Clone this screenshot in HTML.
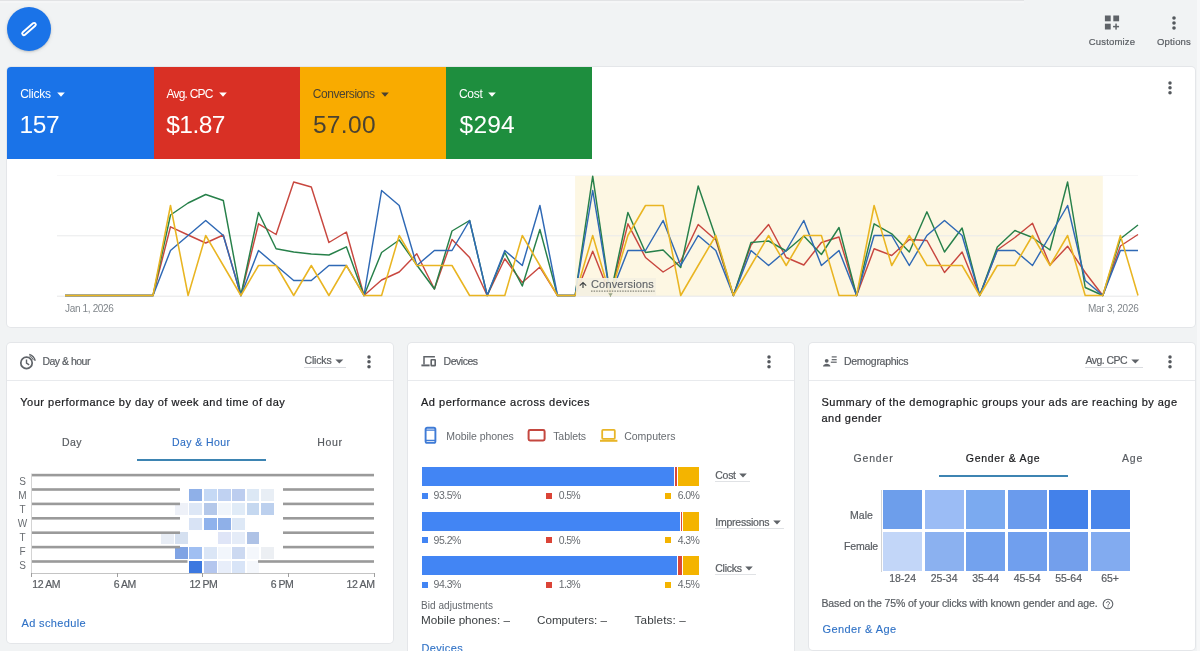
<!DOCTYPE html>
<html><head><meta charset="utf-8"><title>Overview</title>
<style>
html,body{margin:0;padding:0}
body{width:1200px;height:651px;overflow:hidden;position:relative;background:#f1f3f4;font-family:"Liberation Sans",sans-serif}
.t{position:absolute;white-space:nowrap}
.r{position:absolute}
.card{position:absolute;background:#fff;border-radius:4px;box-shadow:0 0 0 1px #e4e6e9;}
svg{display:block;overflow:visible}
</style></head><body>
<div class="r" style="left:0.00px;top:0.00px;width:1024.00px;height:1.00px;background:#e2e3e5;"></div>
<div class="r" style="left:0.00px;top:1.00px;width:1024.00px;height:2.00px;background:#f5f6f7;"></div>
<div class="r" style="left:1196.50px;top:0.00px;width:3.50px;height:651.00px;background:#f7f8f9;"></div>
<div class="r" style="left:6.9px;top:6.5px;width:44.3px;height:44.3px;border-radius:50%;background:#1a73e8;box-shadow:0 1px 2px rgba(60,64,67,.2),0 1px 4px rgba(60,64,67,.1)"></div>
<svg class="r" style="left:19.05px;top:18.9px" width="20" height="20" viewBox="0 0 20 20"><g transform="rotate(49 10 10)"><rect x="8.3" y="1.6" width="3.4" height="16.8" rx="1.6" fill="none" stroke="#fff" stroke-width="1.9"/></g></svg>
<svg class="r" style="left:1104px;top:15px" width="16" height="16" viewBox="0 0 16 16" fill="#5f6368"><rect x="0.9" y="0.5" width="5.8" height="5.8"/><rect x="9.3" y="0.5" width="5.8" height="5.8"/><rect x="0.9" y="8.7" width="5.8" height="5.8"/><rect x="11.3" y="8.6" width="1.5" height="6"/><rect x="9.05" y="10.85" width="6" height="1.5"/></svg>
<div class="t" style="font-size:9.5px;line-height:9.5px;color:#595d62;letter-spacing:0.181px;left:1088.75px;top:36.76px;-webkit-text-stroke:0.2px;">Customize</div>
<svg class="r" style="left:1170px;top:13.600000000000001px" width="8" height="18" fill="#54585d"><circle cx="4" cy="4" r="1.8"/><circle cx="4" cy="9" r="1.8"/><circle cx="4" cy="14" r="1.8"/></svg>
<div class="t" style="font-size:9.5px;line-height:9.5px;color:#595d62;letter-spacing:0.180px;left:1157.00px;top:36.76px;-webkit-text-stroke:0.2px;">Options</div>
<div class="card" style="left:7px;top:67px;width:1188px;height:260px"></div>
<div class="r" style="left:7.40px;top:67.00px;width:146.50px;height:92.20px;background:#1a73e8;border-top-left-radius:4px;"></div>
<div class="t" style="font-size:12px;line-height:12px;color:#fff;letter-spacing:-0.250px;left:20.20px;top:87.64px;">Clicks</div>
<svg class="r" style="left:56.70px;top:91.7px" width="9" height="6"><path d="M0.2 0.4h7.6L4 4.7z" fill="#fff"/></svg>
<div class="t" style="font-size:24.5px;line-height:24.5px;color:#fff;letter-spacing:-0.450px;left:19.60px;top:112.66px;">157</div>
<div class="r" style="left:153.65px;top:67.00px;width:146.50px;height:92.20px;background:#d93025;"></div>
<div class="t" style="font-size:12px;line-height:12px;color:#fff;letter-spacing:-0.771px;left:166.45px;top:87.64px;">Avg. CPC</div>
<svg class="r" style="left:218.75px;top:91.7px" width="9" height="6"><path d="M0.2 0.4h7.6L4 4.7z" fill="#fff"/></svg>
<div class="t" style="font-size:24.5px;line-height:24.5px;color:#fff;letter-spacing:-0.550px;left:166.30px;top:112.66px;">$1.87</div>
<div class="r" style="left:299.90px;top:67.00px;width:146.50px;height:92.20px;background:#f9ab00;"></div>
<div class="t" style="font-size:12px;line-height:12px;color:#4a4231;letter-spacing:-0.427px;left:312.70px;top:87.64px;">Conversions</div>
<svg class="r" style="left:380.70px;top:91.7px" width="9" height="6"><path d="M0.2 0.4h7.6L4 4.7z" fill="#4a4231"/></svg>
<div class="t" style="font-size:24.5px;line-height:24.5px;color:#4a4231;letter-spacing:0.350px;left:312.90px;top:112.66px;">57.00</div>
<div class="r" style="left:446.15px;top:67.00px;width:146.20px;height:92.20px;background:#1e8e3e;"></div>
<div class="t" style="font-size:12px;line-height:12px;color:#fff;letter-spacing:-0.293px;left:458.95px;top:87.64px;">Cost</div>
<svg class="r" style="left:488.45px;top:91.7px" width="9" height="6"><path d="M0.2 0.4h7.6L4 4.7z" fill="#fff"/></svg>
<div class="t" style="font-size:24.5px;line-height:24.5px;color:#fff;letter-spacing:0.200px;left:459.60px;top:112.66px;">$294</div>
<svg class="r" style="left:1166px;top:78.95px" width="8" height="17.7" fill="#54585d"><circle cx="4" cy="4" r="1.75"/><circle cx="4" cy="8.85" r="1.75"/><circle cx="4" cy="13.7" r="1.75"/></svg>
<svg class="r" style="left:0;top:160px" width="1200" height="165" viewBox="0 160 1200 165"><rect x="575.1" y="175" width="527.7" height="121" fill="#fdf7e3"/><line x1="57" x2="1138" y1="175.5" y2="175.5" stroke="#f8f8f9" stroke-width="1"/><line x1="57" x2="1138" y1="235.8" y2="235.8" stroke="#e9eaeb" stroke-width="1"/><line x1="57" x2="1138" y1="296.2" y2="296.2" stroke="#e6e7e8" stroke-width="1"/><polyline points="65.0,295.5 82.6,295.5 100.2,295.5 117.8,295.5 135.4,295.5 153.0,295.5 170.5,226.8 188.1,235.0 205.7,243.0 223.3,235.0 240.9,295.5 258.5,223.8 276.1,234.5 293.7,182.0 311.3,187.0 328.9,242.5 346.4,232.0 364.0,295.5 381.6,280.0 399.2,272.0 416.8,253.8 434.4,289.0 452.0,239.5 469.6,257.5 487.2,295.5 504.8,258.8 522.3,282.5 539.9,267.0 557.5,295.5 575.1,295.5 592.7,251.2 610.3,295.5 627.9,223.8 645.5,257.5 663.1,272.0 680.7,261.0 698.2,224.5 715.8,240.0 733.4,295.5 751.0,245.0 768.6,224.5 786.2,257.5 803.8,265.0 821.4,242.5 839.0,237.0 856.6,295.5 874.1,248.8 891.7,255.5 909.3,239.5 926.9,240.5 944.5,272.5 962.1,252.0 979.7,295.5 997.3,250.0 1014.9,237.5 1032.5,223.2 1050.0,265.0 1067.6,246.2 1085.2,272.5 1102.8,295.5 1120.4,246.0 1138.0,234.5" fill="none" stroke="#c8473f" stroke-width="1.45" stroke-linejoin="round"/><polyline points="65.0,295.5 82.6,295.5 100.2,295.5 117.8,295.5 135.4,295.5 153.0,295.5 170.5,215.0 188.1,203.0 205.7,194.5 223.3,200.5 240.9,295.5 258.5,212.5 276.1,248.8 293.7,252.0 311.3,254.0 328.9,255.0 346.4,246.8 364.0,295.5 381.6,252.5 399.2,240.0 416.8,265.0 434.4,289.0 452.0,231.0 469.6,220.5 487.2,295.5 504.8,252.5 522.3,286.0 539.9,229.5 557.5,295.5 575.1,295.5 592.7,176.2 610.3,295.5 627.9,212.5 645.5,252.5 663.1,250.0 680.7,267.5 698.2,186.0 715.8,237.5 733.4,295.5 751.0,242.5 768.6,241.0 786.2,251.0 803.8,236.0 821.4,254.5 839.0,227.5 856.6,295.5 874.1,223.8 891.7,233.8 909.3,252.0 926.9,211.8 944.5,252.0 962.1,228.0 979.7,295.5 997.3,247.0 1014.9,230.5 1032.5,237.5 1050.0,250.0 1067.6,182.0 1085.2,287.5 1102.8,295.5 1120.4,238.8 1138.0,225.0" fill="none" stroke="#27804a" stroke-width="1.45" stroke-linejoin="round"/><polyline points="65.0,295.5 82.6,295.5 100.2,295.5 117.8,295.5 135.4,295.5 153.0,295.5 170.5,250.5 188.1,235.5 205.7,220.5 223.3,235.5 240.9,295.5 258.5,250.5 276.1,265.5 293.7,280.5 311.3,280.5 328.9,265.5 346.4,265.5 364.0,295.5 381.6,190.5 399.2,205.5 416.8,265.5 434.4,250.5 452.0,250.5 469.6,220.5 487.2,295.5 504.8,250.5 522.3,265.5 539.9,205.5 557.5,295.5 575.1,295.5 592.7,190.5 610.3,295.5 627.9,250.5 645.5,250.5 663.1,220.5 680.7,265.5 698.2,235.5 715.8,250.5 733.4,295.5 751.0,250.5 768.6,265.5 786.2,250.5 803.8,220.5 821.4,265.5 839.0,250.5 856.6,295.5 874.1,235.5 891.7,235.5 909.3,265.5 926.9,235.5 944.5,220.5 962.1,235.5 979.7,295.5 997.3,250.5 1014.9,250.5 1032.5,265.5 1050.0,235.5 1067.6,205.5 1085.2,280.5 1102.8,295.5 1120.4,250.5 1138.0,250.5" fill="none" stroke="#2f69b5" stroke-width="1.45" stroke-linejoin="round"/><polyline points="65.0,295.5 82.6,295.5 100.2,295.5 117.8,295.5 135.4,295.5 153.0,295.5 170.5,205.5 188.1,295.5 205.7,235.5 223.3,265.5 240.9,295.5 258.5,265.5 276.1,265.5 293.7,295.5 311.3,265.5 328.9,295.5 346.4,265.5 364.0,295.5 381.6,295.5 399.2,235.5 416.8,265.5 434.4,265.5 452.0,265.5 469.6,295.5 487.2,295.5 504.8,295.5 522.3,235.5 539.9,265.5 557.5,295.5 575.1,295.5 592.7,235.5 610.3,295.5 627.9,235.5 645.5,205.5 663.1,205.5 680.7,295.5 698.2,265.5 715.8,235.5 733.4,295.5 751.0,265.5 768.6,235.5 786.2,265.5 803.8,235.5 821.4,235.5 839.0,295.5 856.6,295.5 874.1,205.5 891.7,265.5 909.3,235.5 926.9,265.5 944.5,265.5 962.1,265.5 979.7,295.5 997.3,265.5 1014.9,265.5 1032.5,235.5 1050.0,265.5 1067.6,235.5 1085.2,295.5 1102.8,295.5 1120.4,235.5 1138.0,295.5" fill="none" stroke="#e9b522" stroke-width="1.55" stroke-linejoin="round"/></svg>
<div class="t" style="font-size:10px;line-height:10px;color:#80868b;letter-spacing:-0.342px;left:65.00px;top:303.64px;">Jan 1, 2026</div>
<div class="t" style="font-size:10px;line-height:10px;color:#80868b;letter-spacing:-0.260px;left:1088.00px;top:303.64px;">Mar 3, 2026</div>
<div class="r" style="left:576.00px;top:278.00px;width:80.00px;height:18.00px;background:#f4f0e2;opacity:.92"></div>
<div class="t" style="font-size:11px;line-height:11px;color:#5f6368;letter-spacing:0.169px;left:591.00px;top:278.59px;-webkit-text-stroke:0.12px;">Conversions</div>
<svg class="r" style="left:591px;top:290px" width="64" height="3"><line x1="0" x2="63.5" y1="1.1" y2="1.1" stroke="#85857a" stroke-width="1.3" stroke-dasharray="1.5 1.1"/></svg>
<svg class="r" style="left:578px;top:280px" width="10" height="10"><path d="M5 2.6V8.1M1.8 5.6L5 2.5L8.2 5.6" fill="none" stroke="#3c4043" stroke-width="1.15"/></svg>
<svg class="r" style="left:607.5px;top:293.2px" width="6" height="4"><path d="M0.3 0.2h4.4L2.5 3.6z" fill="#9aa68a"/></svg>
<div class="card" style="left:7px;top:342.5px;width:386px;height:300px"></div>
<div class="card" style="left:408px;top:342.5px;width:386px;height:330px"></div>
<div class="card" style="left:808.5px;top:342.5px;width:386.5px;height:307px"></div>
<div class="r" style="left:7.00px;top:380.00px;width:386.00px;height:1.00px;background:#e8eaed;"></div>
<div class="r" style="left:408.00px;top:380.00px;width:386.00px;height:1.00px;background:#e8eaed;"></div>
<div class="r" style="left:808.50px;top:380.00px;width:386.50px;height:1.00px;background:#e8eaed;"></div>
<svg class="r" style="left:19px;top:352.5px" width="18" height="18" viewBox="0 0 18 18" fill="none" stroke="#5f6368" stroke-width="1.7"><circle cx="7.5" cy="9.9" r="5.7"/><path d="M7.5 6.6V10.1L10.2 11.9" stroke-width="1.4"/><path d="M10.31 2.95A7.5 7.5 0 0 1 14.45 7.09" stroke-width="1"/><path d="M10.28 1.34A9.0 9.0 0 0 1 16.23 7.72" stroke-width="1.4"/></svg>
<div class="t" style="font-size:10.5px;line-height:10.5px;color:#595d62;letter-spacing:-0.503px;left:42.40px;top:355.91px;-webkit-text-stroke:0.2px;">Day &amp; hour</div>
<div class="t" style="font-size:10.5px;line-height:10.5px;color:#595d62;letter-spacing:-0.166px;left:304.50px;top:354.81px;-webkit-text-stroke:0.2px;">Clicks</div>
<svg class="r" style="left:335px;top:358.8px" width="9" height="6"><path d="M0.3 0.5h8L4.3 4.6z" fill="#5f6368"/></svg>
<div class="r" style="left:304.30px;top:366.80px;width:41.50px;height:1.00px;background:#dadce0;"></div>
<svg class="r" style="left:364.5px;top:352.65px" width="8" height="17.7" fill="#54585d"><circle cx="4" cy="4" r="1.75"/><circle cx="4" cy="8.85" r="1.75"/><circle cx="4" cy="13.7" r="1.75"/></svg>
<div class="t" style="font-size:11px;line-height:11px;color:#202124;letter-spacing:0.495px;left:20.30px;top:396.59px;-webkit-text-stroke:0.22px;">Your performance by day of week and time of day</div>
<div class="t" style="font-size:10.5px;line-height:10.5px;color:#595d62;letter-spacing:0.443px;left:62.00px;top:436.81px;-webkit-text-stroke:0.2px;">Day</div>
<div class="t" style="font-size:10.5px;line-height:10.5px;color:#2f6fc4;letter-spacing:0.423px;left:171.95px;top:436.81px;-webkit-text-stroke:0.12px;">Day &amp; Hour</div>
<div class="t" style="font-size:10.5px;line-height:10.5px;color:#595d62;letter-spacing:0.685px;left:317.25px;top:436.81px;-webkit-text-stroke:0.2px;">Hour</div>
<div class="r" style="left:137.00px;top:458.70px;width:129.00px;height:2.20px;background:#3d84b2;"></div>
<div class="t" style="font-size:10px;line-height:10px;color:#686c71;left:19.16px;top:477.24px;">S</div>
<div class="t" style="font-size:10px;line-height:10px;color:#686c71;left:18.33px;top:491.18px;">M</div>
<div class="t" style="font-size:10px;line-height:10px;color:#686c71;left:19.45px;top:505.12px;">T</div>
<div class="t" style="font-size:10px;line-height:10px;color:#686c71;left:17.78px;top:519.05px;">W</div>
<div class="t" style="font-size:10px;line-height:10px;color:#686c71;left:19.45px;top:533.00px;">T</div>
<div class="t" style="font-size:10px;line-height:10px;color:#686c71;left:19.45px;top:546.93px;">F</div>
<div class="t" style="font-size:10px;line-height:10px;color:#686c71;left:19.16px;top:560.88px;">S</div>
<div class="r" style="left:189.48px;top:488.90px;width:12.87px;height:12.20px;background:#8fb0e8;"></div>
<div class="r" style="left:203.75px;top:488.90px;width:12.87px;height:12.20px;background:#c5d9f5;"></div>
<div class="r" style="left:218.02px;top:488.90px;width:12.87px;height:12.20px;background:#c0d2f2;"></div>
<div class="r" style="left:232.29px;top:488.90px;width:12.87px;height:12.20px;background:#bccdef;"></div>
<div class="r" style="left:246.56px;top:488.90px;width:12.87px;height:12.20px;background:#dce8f5;"></div>
<div class="r" style="left:260.83px;top:488.90px;width:12.87px;height:12.20px;background:#e8eef5;"></div>
<div class="r" style="left:175.21px;top:503.30px;width:12.87px;height:12.20px;background:#eef1f8;"></div>
<div class="r" style="left:189.48px;top:503.30px;width:12.87px;height:12.20px;background:#dde7f6;"></div>
<div class="r" style="left:203.75px;top:503.30px;width:12.87px;height:12.20px;background:#b4c8ea;"></div>
<div class="r" style="left:218.02px;top:503.30px;width:12.87px;height:12.20px;background:#f0f5fb;"></div>
<div class="r" style="left:232.29px;top:503.30px;width:12.87px;height:12.20px;background:#e0ebf7;"></div>
<div class="r" style="left:246.56px;top:503.30px;width:12.87px;height:12.20px;background:#c5d8f0;"></div>
<div class="r" style="left:260.83px;top:503.30px;width:12.87px;height:12.20px;background:#bcd0ee;"></div>
<div class="r" style="left:189.48px;top:517.70px;width:12.87px;height:12.20px;background:#d8e3f5;"></div>
<div class="r" style="left:203.75px;top:517.70px;width:12.87px;height:12.20px;background:#8fb2ec;"></div>
<div class="r" style="left:218.02px;top:517.70px;width:12.87px;height:12.20px;background:#8fb0e8;"></div>
<div class="r" style="left:232.29px;top:517.70px;width:12.87px;height:12.20px;background:#dde8f6;"></div>
<div class="r" style="left:160.94px;top:532.10px;width:12.87px;height:12.20px;background:#e8edf5;"></div>
<div class="r" style="left:175.21px;top:532.10px;width:12.87px;height:12.20px;background:#d5e0f0;"></div>
<div class="r" style="left:218.02px;top:532.10px;width:12.87px;height:12.20px;background:#dfe5f7;"></div>
<div class="r" style="left:232.29px;top:532.10px;width:12.87px;height:12.20px;background:#e5ecf8;"></div>
<div class="r" style="left:246.56px;top:532.10px;width:12.87px;height:12.20px;background:#aec2e6;"></div>
<div class="r" style="left:175.21px;top:546.50px;width:12.87px;height:12.20px;background:#7fa3e4;"></div>
<div class="r" style="left:189.48px;top:546.50px;width:12.87px;height:12.20px;background:#a0bff2;"></div>
<div class="r" style="left:203.75px;top:546.50px;width:12.87px;height:12.20px;background:#dbe6f6;"></div>
<div class="r" style="left:218.02px;top:546.50px;width:12.87px;height:12.20px;background:#f2f6fc;"></div>
<div class="r" style="left:232.29px;top:546.50px;width:12.87px;height:12.20px;background:#ccd9f1;"></div>
<div class="r" style="left:246.56px;top:546.50px;width:12.87px;height:12.20px;background:#f4f7fc;"></div>
<div class="r" style="left:260.83px;top:546.50px;width:12.87px;height:12.20px;background:#eceff3;"></div>
<div class="r" style="left:189.48px;top:560.90px;width:12.87px;height:12.20px;background:#3c78e0;"></div>
<div class="r" style="left:203.75px;top:560.90px;width:12.87px;height:12.20px;background:#b4c6ee;"></div>
<div class="r" style="left:218.02px;top:560.90px;width:12.87px;height:12.20px;background:#e8eefa;"></div>
<div class="r" style="left:232.29px;top:560.90px;width:12.87px;height:12.20px;background:#d8e4f7;"></div>
<div class="r" style="left:246.56px;top:560.90px;width:12.87px;height:12.20px;background:#f4f7fc;"></div>
<svg class="r" style="left:0;top:470px" width="400" height="100" viewBox="0 470 400 100"><rect x="31" y="473.80" width="343" height="2.6" fill="#9a9a9a"/><rect x="31" y="488.20" width="149" height="2.6" fill="#9a9a9a"/><rect x="283" y="488.20" width="91" height="2.6" fill="#9a9a9a"/><rect x="31" y="502.60" width="149" height="2.6" fill="#9a9a9a"/><rect x="283" y="502.60" width="91" height="2.6" fill="#9a9a9a"/><rect x="31" y="517.00" width="149" height="2.6" fill="#9a9a9a"/><rect x="283" y="517.00" width="91" height="2.6" fill="#9a9a9a"/><rect x="31" y="531.40" width="149" height="2.6" fill="#9a9a9a"/><rect x="283" y="531.40" width="91" height="2.6" fill="#9a9a9a"/><rect x="31" y="545.80" width="149" height="2.6" fill="#9a9a9a"/><rect x="283" y="545.80" width="91" height="2.6" fill="#9a9a9a"/><rect x="31" y="560.20" width="156.5" height="2.6" fill="#9a9a9a"/><rect x="258" y="560.20" width="116" height="2.6" fill="#9a9a9a"/></svg>
<div class="r" style="left:31.00px;top:474.00px;width:1.00px;height:100.00px;background:#d4d4d4;"></div>
<div class="r" style="left:31.00px;top:573.30px;width:343.50px;height:1.00px;background:#c4c4c4;"></div>
<div class="r" style="left:31.00px;top:573.30px;width:1.00px;height:3.70px;background:#9e9e9e;"></div>
<div class="t" style="font-size:10.5px;line-height:10.5px;color:#595d62;letter-spacing:-0.353px;left:32.20px;top:578.91px;-webkit-text-stroke:0.2px;">12 AM</div>
<div class="r" style="left:116.62px;top:573.30px;width:1.00px;height:3.70px;background:#9e9e9e;"></div>
<div class="t" style="font-size:10.5px;line-height:10.5px;color:#595d62;letter-spacing:-0.407px;left:113.65px;top:578.91px;-webkit-text-stroke:0.2px;">6 AM</div>
<div class="r" style="left:202.25px;top:573.30px;width:1.00px;height:3.70px;background:#9e9e9e;"></div>
<div class="t" style="font-size:10.5px;line-height:10.5px;color:#595d62;letter-spacing:-0.469px;left:189.40px;top:578.91px;-webkit-text-stroke:0.2px;">12 PM</div>
<div class="r" style="left:287.88px;top:573.30px;width:1.00px;height:3.70px;background:#9e9e9e;"></div>
<div class="t" style="font-size:10.5px;line-height:10.5px;color:#595d62;letter-spacing:-0.552px;left:270.85px;top:578.91px;-webkit-text-stroke:0.2px;">6 PM</div>
<div class="r" style="left:373.50px;top:573.30px;width:1.00px;height:3.70px;background:#9e9e9e;"></div>
<div class="t" style="font-size:10.5px;line-height:10.5px;color:#595d62;letter-spacing:-0.353px;left:346.60px;top:578.91px;-webkit-text-stroke:0.2px;">12 AM</div>
<div class="t" style="font-size:11px;line-height:11px;color:#3072c6;letter-spacing:0.360px;left:21.50px;top:617.89px;-webkit-text-stroke:0.12px;">Ad schedule</div>
<svg class="r" style="left:420px;top:353px" width="18" height="16" viewBox="0 0 18 16" fill="none" stroke="#5f6368" stroke-width="1.5"><path d="M4 11.6V3.7H14.9"/><path d="M1.4 12.4H9.6" stroke-width="1.9"/><rect x="11.2" y="6.7" width="4" height="5.9" rx="0.4" stroke-width="1.6"/></svg>
<div class="t" style="font-size:10.5px;line-height:10.5px;color:#595d62;letter-spacing:-0.478px;left:443.60px;top:355.91px;-webkit-text-stroke:0.2px;">Devices</div>
<svg class="r" style="left:765px;top:352.65px" width="8" height="17.7" fill="#54585d"><circle cx="4" cy="4" r="1.75"/><circle cx="4" cy="8.85" r="1.75"/><circle cx="4" cy="13.7" r="1.75"/></svg>
<div class="t" style="font-size:11px;line-height:11px;color:#202124;letter-spacing:0.515px;left:421.00px;top:396.59px;-webkit-text-stroke:0.22px;">Ad performance across devices</div>
<svg class="r" style="left:423px;top:426px" width="16" height="20" fill="none"><rect x="2.6" y="1.8" width="9.8" height="15" rx="1.6" stroke="#3f7bd6" stroke-width="1.9"/><path d="M2.6 4.2h9.8M2.6 14.4h9.8" stroke="#3f7bd6" stroke-width="1.3"/></svg>
<div class="t" style="font-size:10.5px;line-height:10.5px;color:#686c71;letter-spacing:-0.061px;left:446.30px;top:430.51px;">Mobile phones</div>
<svg class="r" style="left:526px;top:428px" width="20" height="16" fill="none"><rect x="2.6" y="2" width="16" height="10.4" rx="1.4" stroke="#c4473f" stroke-width="2"/></svg>
<div class="t" style="font-size:10.5px;line-height:10.5px;color:#686c71;letter-spacing:-0.067px;left:553.20px;top:430.51px;">Tablets</div>
<svg class="r" style="left:598.6px;top:428px" width="20" height="16" fill="none"><rect x="3.2" y="1.9" width="12.6" height="9" rx="0.8" stroke="#e8b528" stroke-width="1.8"/><path d="M1 12.8h17.4" stroke="#e8b528" stroke-width="2"/></svg>
<div class="t" style="font-size:10.5px;line-height:10.5px;color:#686c71;letter-spacing:-0.017px;left:624.20px;top:430.51px;">Computers</div>
<div class="r" style="left:421.50px;top:467.10px;width:277.80px;height:19.10px;background:#fff;"></div>
<div class="r" style="left:421.50px;top:467.10px;width:252.90px;height:19.10px;background:#4285f4;"></div>
<div class="r" style="left:675.40px;top:467.10px;width:1.20px;height:19.10px;background:#d9483b;"></div>
<div class="r" style="left:677.60px;top:467.10px;width:21.70px;height:19.10px;background:#f4b400;"></div>
<div class="r" style="left:421.50px;top:493.00px;width:6.00px;height:6.20px;background:#4285f4;"></div>
<div class="t" style="font-size:10.5px;line-height:10.5px;color:#686c71;letter-spacing:-0.514px;left:433.60px;top:490.41px;">93.5%</div>
<div class="r" style="left:546.00px;top:493.00px;width:6.00px;height:6.20px;background:#db4437;"></div>
<div class="t" style="font-size:10.5px;line-height:10.5px;color:#686c71;letter-spacing:-0.683px;left:558.80px;top:490.41px;">0.5%</div>
<div class="r" style="left:664.60px;top:493.00px;width:6.00px;height:6.20px;background:#f4b400;"></div>
<div class="t" style="font-size:10.5px;line-height:10.5px;color:#686c71;letter-spacing:-0.608px;left:677.80px;top:490.41px;">6.0%</div>
<div class="t" style="font-size:10.5px;line-height:10.5px;color:#595d62;letter-spacing:-0.297px;left:715.30px;top:469.71px;-webkit-text-stroke:0.2px;">Cost</div>
<svg class="r" style="left:739.30px;top:473.20px" width="9" height="6"><path d="M0.2 0.4h7.6L4 4.4z" fill="#5f6368"/></svg>
<div class="r" style="left:715.00px;top:481.20px;width:35.40px;height:1.00px;background:#e0e2e5;"></div>
<div class="r" style="left:421.50px;top:511.60px;width:277.80px;height:19.00px;background:#fff;"></div>
<div class="r" style="left:421.50px;top:511.60px;width:258.90px;height:19.00px;background:#4285f4;"></div>
<div class="r" style="left:681.00px;top:511.60px;width:0.90px;height:19.00px;background:#d9483b;"></div>
<div class="r" style="left:682.60px;top:511.60px;width:16.70px;height:19.00px;background:#f4b400;"></div>
<div class="r" style="left:421.50px;top:537.30px;width:6.00px;height:6.20px;background:#4285f4;"></div>
<div class="t" style="font-size:10.5px;line-height:10.5px;color:#686c71;letter-spacing:-0.514px;left:433.60px;top:534.71px;">95.2%</div>
<div class="r" style="left:546.00px;top:537.30px;width:6.00px;height:6.20px;background:#db4437;"></div>
<div class="t" style="font-size:10.5px;line-height:10.5px;color:#686c71;letter-spacing:-0.683px;left:558.80px;top:534.71px;">0.5%</div>
<div class="r" style="left:664.60px;top:537.30px;width:6.00px;height:6.20px;background:#f4b400;"></div>
<div class="t" style="font-size:10.5px;line-height:10.5px;color:#686c71;letter-spacing:-0.608px;left:677.80px;top:534.71px;">4.3%</div>
<div class="t" style="font-size:10.5px;line-height:10.5px;color:#595d62;letter-spacing:-0.237px;left:715.30px;top:516.71px;-webkit-text-stroke:0.2px;">Impressions</div>
<svg class="r" style="left:772.90px;top:520.20px" width="9" height="6"><path d="M0.2 0.4h7.6L4 4.4z" fill="#5f6368"/></svg>
<div class="r" style="left:715.00px;top:528.20px;width:69.00px;height:1.00px;background:#e0e2e5;"></div>
<div class="r" style="left:421.50px;top:556.10px;width:277.80px;height:18.90px;background:#fff;"></div>
<div class="r" style="left:421.50px;top:556.10px;width:255.90px;height:18.90px;background:#4285f4;"></div>
<div class="r" style="left:678.20px;top:556.10px;width:3.80px;height:18.90px;background:#d9483b;"></div>
<div class="r" style="left:682.70px;top:556.10px;width:16.60px;height:18.90px;background:#f4b400;"></div>
<div class="r" style="left:421.50px;top:581.90px;width:6.00px;height:6.20px;background:#4285f4;"></div>
<div class="t" style="font-size:10.5px;line-height:10.5px;color:#686c71;letter-spacing:-0.514px;left:433.60px;top:579.31px;">94.3%</div>
<div class="r" style="left:546.00px;top:581.90px;width:6.00px;height:6.20px;background:#db4437;"></div>
<div class="t" style="font-size:10.5px;line-height:10.5px;color:#686c71;letter-spacing:-0.683px;left:558.80px;top:579.31px;">1.3%</div>
<div class="r" style="left:664.60px;top:581.90px;width:6.00px;height:6.20px;background:#f4b400;"></div>
<div class="t" style="font-size:10.5px;line-height:10.5px;color:#686c71;letter-spacing:-0.608px;left:677.80px;top:579.31px;">4.5%</div>
<div class="t" style="font-size:10.5px;line-height:10.5px;color:#595d62;letter-spacing:-0.266px;left:715.30px;top:562.61px;-webkit-text-stroke:0.2px;">Clicks</div>
<svg class="r" style="left:745.30px;top:566.10px" width="9" height="6"><path d="M0.2 0.4h7.6L4 4.4z" fill="#5f6368"/></svg>
<div class="r" style="left:715.00px;top:574.10px;width:41.40px;height:1.00px;background:#e0e2e5;"></div>
<div class="t" style="font-size:10px;line-height:10px;color:#63676c;letter-spacing:0.057px;left:421.00px;top:600.63px;">Bid adjustments</div>
<div class="t" style="font-size:11.7px;line-height:11.7px;color:#3c4043;letter-spacing:-0.007px;left:421.00px;top:613.80px;">Mobile phones: –</div>
<div class="t" style="font-size:11.7px;line-height:11.7px;color:#3c4043;letter-spacing:-0.019px;left:537.00px;top:613.80px;">Computers: –</div>
<div class="t" style="font-size:11.7px;line-height:11.7px;color:#3c4043;letter-spacing:0.142px;left:634.50px;top:613.80px;">Tablets: –</div>
<div class="t" style="font-size:11px;line-height:11px;color:#3072c6;letter-spacing:0.340px;left:421.50px;top:643.29px;-webkit-text-stroke:0.12px;">Devices</div>
<svg class="r" style="left:821px;top:353px" width="18" height="16" viewBox="0 0 18 16" fill="#5f6368"><circle cx="5.7" cy="7.8" r="1.9"/><path d="M2 13.6c0-2 2.2-2.9 3.7-2.9s3.7.9 3.7 2.9z"/><rect x="10.7" y="3.3" width="5" height="1.2"/><rect x="10.7" y="6.1" width="5" height="1.2"/><rect x="9.8" y="8.6" width="5.9" height="1.2"/></svg>
<div class="t" style="font-size:10.5px;line-height:10.5px;color:#595d62;letter-spacing:-0.291px;left:844.00px;top:355.91px;-webkit-text-stroke:0.2px;">Demographics</div>
<div class="t" style="font-size:10.5px;line-height:10.5px;color:#595d62;letter-spacing:-0.551px;left:1085.60px;top:354.81px;-webkit-text-stroke:0.2px;">Avg. CPC</div>
<svg class="r" style="left:1130.6px;top:358.8px" width="9" height="6"><path d="M0.3 0.5h8L4.3 4.6z" fill="#5f6368"/></svg>
<div class="r" style="left:1085.00px;top:366.80px;width:58.00px;height:1.00px;background:#dadce0;"></div>
<svg class="r" style="left:1166px;top:352.65px" width="8" height="17.7" fill="#54585d"><circle cx="4" cy="4" r="1.75"/><circle cx="4" cy="8.85" r="1.75"/><circle cx="4" cy="13.7" r="1.75"/></svg>
<div class="t" style="font-size:11px;line-height:11px;color:#202124;letter-spacing:0.476px;left:821.50px;top:396.59px;-webkit-text-stroke:0.22px;">Summary of the demographic groups your ads are reaching by age</div>
<div class="t" style="font-size:11px;line-height:11px;color:#202124;letter-spacing:0.484px;left:821.50px;top:412.59px;-webkit-text-stroke:0.22px;">and gender</div>
<div class="t" style="font-size:10.5px;line-height:10.5px;color:#595d62;letter-spacing:0.830px;left:853.50px;top:452.81px;-webkit-text-stroke:0.2px;">Gender</div>
<div class="t" style="font-size:10.5px;line-height:10.5px;color:#202124;letter-spacing:0.711px;left:965.75px;top:452.81px;-webkit-text-stroke:0.22px;">Gender &amp; Age</div>
<div class="t" style="font-size:10.5px;line-height:10.5px;color:#595d62;letter-spacing:0.772px;left:1122.00px;top:452.81px;-webkit-text-stroke:0.2px;">Age</div>
<div class="r" style="left:939.00px;top:474.70px;width:129.00px;height:2.20px;background:#3d84b2;"></div>
<div class="r" style="left:883.00px;top:490.30px;width:39.20px;height:38.80px;background:#6d9eeb;"></div>
<div class="r" style="left:924.50px;top:490.30px;width:39.20px;height:38.80px;background:#9bbcf5;"></div>
<div class="r" style="left:966.00px;top:490.30px;width:39.20px;height:38.80px;background:#7baaf0;"></div>
<div class="r" style="left:1007.50px;top:490.30px;width:39.20px;height:38.80px;background:#6a9bed;"></div>
<div class="r" style="left:1049.00px;top:490.30px;width:39.20px;height:38.80px;background:#4381ea;"></div>
<div class="r" style="left:1090.50px;top:490.30px;width:39.20px;height:38.80px;background:#4a86eb;"></div>
<div class="r" style="left:883.00px;top:531.70px;width:39.20px;height:39.30px;background:#c2d6f8;"></div>
<div class="r" style="left:924.50px;top:531.70px;width:39.20px;height:39.30px;background:#8bb1f0;"></div>
<div class="r" style="left:966.00px;top:531.70px;width:39.20px;height:39.30px;background:#73a2ee;"></div>
<div class="r" style="left:1007.50px;top:531.70px;width:39.20px;height:39.30px;background:#709fee;"></div>
<div class="r" style="left:1049.00px;top:531.70px;width:39.20px;height:39.30px;background:#739fec;"></div>
<div class="r" style="left:1090.50px;top:531.70px;width:39.20px;height:39.30px;background:#82abf0;"></div>
<div class="r" style="left:881.00px;top:490.00px;width:1.00px;height:81.50px;background:#d2d4d6;"></div>
<div class="t" style="font-size:10.5px;line-height:10.5px;color:#595d62;letter-spacing:0.060px;left:850.00px;top:510.41px;-webkit-text-stroke:0.2px;">Male</div>
<div class="t" style="font-size:10.5px;line-height:10.5px;color:#595d62;letter-spacing:-0.169px;left:844.00px;top:541.41px;-webkit-text-stroke:0.2px;">Female</div>
<div class="t" style="font-size:10.5px;line-height:10.5px;color:#595d62;left:889.17px;top:572.81px;-webkit-text-stroke:0.2px;">18-24</div>
<div class="t" style="font-size:10.5px;line-height:10.5px;color:#595d62;left:930.67px;top:572.81px;-webkit-text-stroke:0.2px;">25-34</div>
<div class="t" style="font-size:10.5px;line-height:10.5px;color:#595d62;left:972.17px;top:572.81px;-webkit-text-stroke:0.2px;">35-44</div>
<div class="t" style="font-size:10.5px;line-height:10.5px;color:#595d62;left:1013.67px;top:572.81px;-webkit-text-stroke:0.2px;">45-54</div>
<div class="t" style="font-size:10.5px;line-height:10.5px;color:#595d62;left:1055.17px;top:572.81px;-webkit-text-stroke:0.2px;">55-64</div>
<div class="t" style="font-size:10.5px;line-height:10.5px;color:#595d62;left:1101.19px;top:572.81px;-webkit-text-stroke:0.2px;">65+</div>
<div class="t" style="font-size:10.5px;line-height:10.5px;color:#595d62;letter-spacing:-0.132px;left:821.50px;top:597.81px;-webkit-text-stroke:0.2px;">Based on the 75% of your clicks with known gender and age.</div>
<svg class="r" style="left:1101.5px;top:597.5px" width="12" height="12" fill="none" stroke="#5f6368"><circle cx="6" cy="6" r="4.8" stroke-width="1.1"/><path d="M4.5 5.1a1.5 1.5 0 1 1 2.4 1.2c-.6.4-.9.7-.9 1.3" stroke-width="1"/><circle cx="6" cy="9" r=".3" stroke-width=".7"/></svg>
<div class="t" style="font-size:11px;line-height:11px;color:#3072c6;letter-spacing:0.408px;left:822.50px;top:624.39px;-webkit-text-stroke:0.12px;">Gender &amp; Age</div>
</body></html>
